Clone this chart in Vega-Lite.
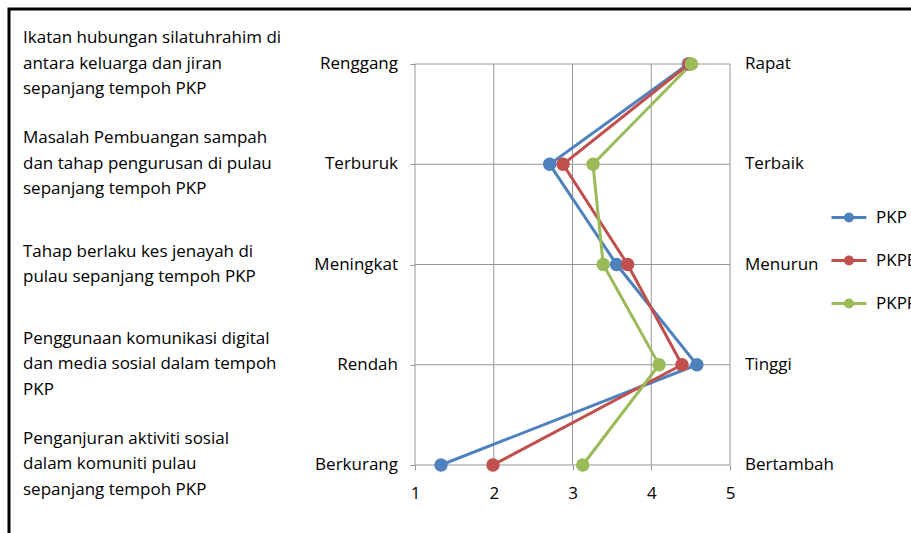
{
  "$schema": "https://vega.github.io/schema/vega-lite/v6.json",
  "width": 905,
  "height": 527,
  "autosize": "none",
  "padding": {"left": 9, "top": 9, "right": -3, "bottom": -3},
  "background": "white",
  "config": {
    "view": {"stroke": "#000000", "strokeWidth": 3},
    "font": "Open Sans",
    "text": {"font": "Open Sans", "fontSize": 17, "color": "#000000"}
  },
  "datasets": {
    "rows": [
      {"row": 1, "q": "Ikatan hubungan silatuhrahim di\nantara keluarga dan jiran\nsepanjang tempoh PKP", "low": "Renggang", "high": "Rapat"},
      {"row": 2, "q": "Masalah Pembuangan sampah\ndan tahap pengurusan di pulau\nsepanjang tempoh PKP", "low": "Terburuk", "high": "Terbaik"},
      {"row": 3, "q": "Tahap berlaku kes jenayah di\npulau sepanjang tempoh PKP", "low": "Meningkat", "high": "Menurun"},
      {"row": 4, "q": "Penggunaan komunikasi digital\ndan media sosial dalam tempoh\nPKP", "low": "Rendah", "high": "Tinggi"},
      {"row": 5, "q": "Penganjuran aktiviti sosial\ndalam komuniti pulau\nsepanjang tempoh PKP", "low": "Berkurang", "high": "Bertambah"}
    ],
    "grid": [{"g": 1}, {"g": 2}, {"g": 3}, {"g": 4}, {"g": 5}],
    "scores": [
      {"series": "PKP", "row": 1, "v": 4.47},
      {"series": "PKP", "row": 2, "v": 2.71},
      {"series": "PKP", "row": 3, "v": 3.56},
      {"series": "PKP", "row": 4, "v": 4.58},
      {"series": "PKP", "row": 5, "v": 1.33},
      {"series": "PKPB", "row": 1, "v": 4.48},
      {"series": "PKPB", "row": 2, "v": 2.88},
      {"series": "PKPB", "row": 3, "v": 3.70},
      {"series": "PKPB", "row": 4, "v": 4.39},
      {"series": "PKPB", "row": 5, "v": 1.99},
      {"series": "PKPP", "row": 1, "v": 4.51},
      {"series": "PKPP", "row": 2, "v": 3.26},
      {"series": "PKPP", "row": 3, "v": 3.39},
      {"series": "PKPP", "row": 4, "v": 4.10},
      {"series": "PKPP", "row": 5, "v": 3.13}
    ]
  },
  "layer": [
    {
      "data": {"name": "grid"},
      "mark": {"type": "rule", "stroke": "#969696", "strokeWidth": 1},
      "encoding": {
        "x": {"field": "g", "type": "quantitative",
          "scale": {"domain": [-4.15556, 7.3365], "nice": false, "zero": false},
          "axis": {"orient": "bottom", "offset": -71, "values": [1, 2, 3, 4, 5], "format": "d", "domain": false, "grid": false,
            "ticks": true, "tickSize": 5, "tickColor": "#969696", "labelFont": "Open Sans", "labelFontSize": 17,
            "labelColor": "#000000", "labelPadding": 15, "title": null}},
        "y": {"datum": 1, "type": "quantitative",
          "scale": {"domain": [0.45137, 5.70823], "reverse": true, "nice": false, "zero": false},
          "axis": {"orient": "left", "offset": -406, "values": [1, 2, 3, 4, 5], "labels": false, "domain": false,
            "grid": false, "ticks": true, "tickSize": 5, "tickColor": "#969696", "title": null}},
        "y2": {"datum": 5}
      }
    },
    {
      "data": {"name": "grid"},
      "mark": {"type": "rule", "stroke": "#969696", "strokeWidth": 1},
      "encoding": {
        "y": {"field": "g", "type": "quantitative"},
        "x": {"datum": 1, "type": "quantitative"},
        "x2": {"datum": 5}
      }
    },
    {
      "data": {"name": "scores"},
      "mark": {"type": "line", "strokeWidth": 3},
      "encoding": {
        "x": {"field": "v", "type": "quantitative"},
        "y": {"field": "row", "type": "quantitative"},
        "order": {"field": "row"},
        "color": {"field": "series", "type": "nominal",
          "scale": {"domain": ["PKP", "PKPB", "PKPP"], "range": ["#4F81BD", "#C0504D", "#9BBB59"]},
          "legend": {"orient": "none", "legendX": 821, "legendY": 189.5, "title": null,
            "symbolType": "M-1,0L1,0M-0.2,0A0.2,0.2,0,1,0,0.2,0A0.2,0.2,0,1,0,-0.2,0Z",
            "symbolSize": 1225, "symbolStrokeWidth": 3, "labelFont": "Open Sans", "labelFontSize": 17,
            "labelColor": "#000000", "labelOffset": 8, "rowPadding": 14, "padding": 0,
            "encode": {"symbols": {"update": {"fill": {"scale": "color", "field": "value"}, "stroke": {"scale": "color", "field": "value"}, "opacity": {"value": 1}}}}}
        }
      }
    },
    {
      "data": {"name": "scores"},
      "mark": {"type": "point", "filled": true, "size": 180, "opacity": 1, "shape": "circle"},
      "encoding": {
        "x": {"field": "v", "type": "quantitative"},
        "y": {"field": "row", "type": "quantitative"},
        "color": {"field": "series", "type": "nominal"}
      }
    },
    {
      "data": {"name": "rows"},
      "mark": {"type": "text", "align": "right", "baseline": "middle", "dx": -17},
      "encoding": {
        "x": {"datum": 1, "type": "quantitative"},
        "y": {"field": "row", "type": "quantitative"},
        "text": {"field": "low"}
      }
    },
    {
      "data": {"name": "rows"},
      "mark": {"type": "text", "align": "left", "baseline": "middle", "dx": 15},
      "encoding": {
        "x": {"datum": 5, "type": "quantitative"},
        "y": {"field": "row", "type": "quantitative"},
        "text": {"field": "high"}
      }
    },
    {
      "data": {"name": "rows"},
      "transform": [{"filter": "length(split(datum.q, '\\n')) == 3"}],
      "mark": {"type": "text", "align": "left", "baseline": "middle", "dx": -392, "dy": -26, "lineBreak": "\n", "lineHeight": 25.5},
      "encoding": {
        "x": {"datum": 1, "type": "quantitative"},
        "y": {"field": "row", "type": "quantitative"},
        "text": {"field": "q"}
      }
    },
    {
      "data": {"name": "rows"},
      "transform": [{"filter": "length(split(datum.q, '\\n')) == 2"}],
      "mark": {"type": "text", "align": "left", "baseline": "middle", "dx": -392, "dy": -12.75, "lineBreak": "\n", "lineHeight": 25.5},
      "encoding": {
        "x": {"datum": 1, "type": "quantitative"},
        "y": {"field": "row", "type": "quantitative"},
        "text": {"field": "q"}
      }
    }
  ]
}
